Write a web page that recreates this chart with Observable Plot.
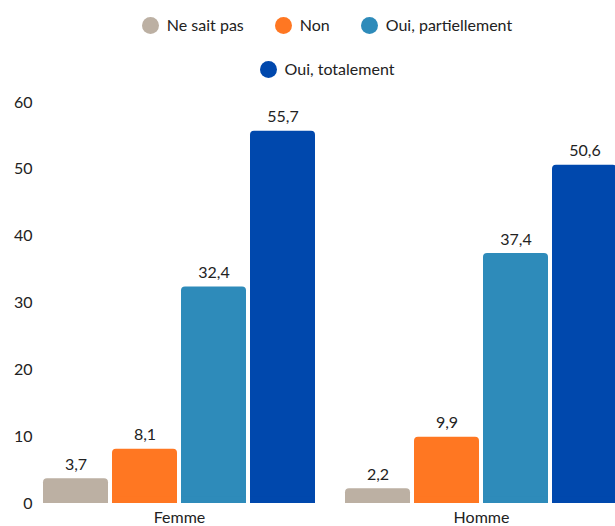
<!DOCTYPE html>
<html><head><meta charset="utf-8">
<script src="https://cdn.jsdelivr.net/npm/d3@7"></script>
<script src="https://cdn.jsdelivr.net/npm/@observablehq/plot@0.6"></script>
<style>
body{margin:0;background:#fff;font-family:Lato,"Open Sans",sans-serif;color:#222;}
#legend{width:615px;height:90px;box-sizing:border-box;padding:15px 80px 0 119px;display:flex;flex-wrap:wrap;justify-content:center;align-content:flex-start;row-gap:24px;column-gap:31px;}
.item{display:flex;align-items:center;height:20px;font-size:16px;line-height:20px;}
.sw{width:17px;height:17px;border-radius:50%;margin-right:8px;}
</style></head><body>
<div id="legend"></div>
<div id="chart"></div>
<script>
const groups = ["Femme", "Homme"];
const answers = ["Ne sait pas", "Non", "Oui, partiellement", "Oui, totalement"];
const femme = [3.7, 8.1, 32.4, 55.7];
const homme = [2.2, 9.9, 37.4, 50.6];
const colors = ["#bcb0a3", "#ff7722", "#2e8bba", "#0048ad"];
const yTicks = [0, 10, 20, 30, 40, 50, 60];

const data = [];
groups.forEach((g, gi) => {
  const vals = gi === 0 ? femme : homme;
  answers.forEach((a, i) => data.push({group: g, answer: a, value: vals[i]}));
});

const leg = document.getElementById("legend");
answers.forEach((a, i) => {
  const it = document.createElement("div"); it.className = "item";
  const sw = document.createElement("div"); sw.className = "sw"; sw.style.background = colors[i];
  const t = document.createElement("span"); t.textContent = a;
  it.appendChild(sw); it.appendChild(t); leg.appendChild(it);
});

const fmt = v => v.toFixed(1).replace(".", ",");

const chart = Plot.plot({
  width: 615, height: 436,
  marginTop: 12, marginBottom: 23, marginLeft: 43, marginRight: -2,
  style: {fontFamily: "Lato, 'Open Sans', sans-serif", fontSize: "16px", color: "#222"},
  fx: {domain: groups, paddingInner: 0.1, paddingOuter: 0, label: null, axis: "bottom", tickSize: 0, tickPadding: 8},
  x: {domain: answers, paddingInner: 0.06, paddingOuter: 0, axis: null},
  y: {domain: [0, 60], ticks: yTicks, tickSize: 0, tickPadding: 11, label: null, tickFormat: d => String(d)},
  color: {domain: answers, range: colors},
  marks: [
    Plot.barY(data, {fx: "group", x: "answer", y: "value", fill: "answer", rx: 4}),
    Plot.barY(data, {fx: "group", x: "answer", y1: 0, y2: d => Math.min(d.value, 1), fill: "answer"}),
    Plot.text(data, {fx: "group", x: "answer", y: "value", text: d => fmt(d.value), dy: -14, fill: "#222", fontSize: 16})
  ]
});
document.getElementById("chart").appendChild(chart);
</script>
</body></html>
